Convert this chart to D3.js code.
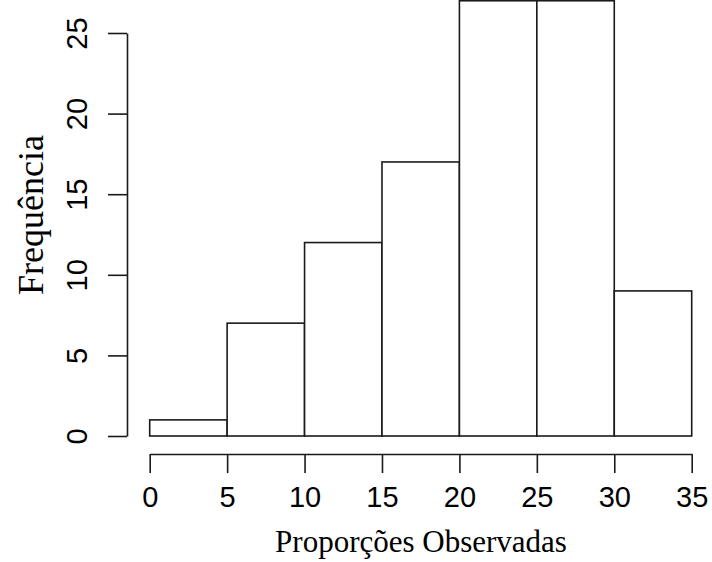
<!DOCTYPE html>
<html><head><meta charset="utf-8">
<script src="https://cdn.jsdelivr.net/npm/d3@7"></script>
<style>body{margin:0;background:#fff}svg{display:block}</style>
</head><body>
<script>
const binEdges = [0, 5, 10, 15, 20, 25, 30, 35];
const counts = [1, 7, 12, 17, 27, 27, 9];
const xTicks = [0, 5, 10, 15, 20, 25, 30, 35];
const yTicks = [0, 5, 10, 15, 20, 25];
const xLabel = "Proporções Observadas";
const yLabel = "Frequência";

const W = 712, H = 562;
const svg = d3.select("body").append("svg").attr("width", W).attr("height", H);
const x = d3.scaleLinear().domain([0, 35]).range([149.7, 691.7]);
const y = d3.scaleLinear().domain([0, 25]).range([436, 33]);
const stroke = "#1a1a1a", sw = 1.6;

const bins = counts.map((c, i) => ({x0: binEdges[i], x1: binEdges[i + 1], c}));
svg.append("g").selectAll("rect").data(bins).join("rect")
  .attr("x", d => x(d.x0)).attr("width", d => x(d.x1) - x(d.x0))
  .attr("y", d => y(d.c)).attr("height", d => y(0) - y(d.c))
  .attr("fill", "#fff").attr("stroke", stroke).attr("stroke-width", sw);

const sans = "'Liberation Sans', Arial, sans-serif";
const serif = "'Liberation Serif', 'Times New Roman', serif";

// x axis
const xa = svg.append("g").attr("transform", "translate(0,454)")
  .call(d3.axisBottom(x).tickValues(xTicks).tickSize(19).tickPadding(13).tickSizeOuter(0));
xa.select(".domain").attr("stroke", stroke).attr("stroke-width", sw);
xa.selectAll(".tick line").attr("stroke", stroke).attr("stroke-width", sw);
xa.selectAll(".tick text").attr("font-family", sans).attr("font-size", 29).attr("fill", "#000");

// y axis
const ya = svg.append("g").attr("transform", "translate(127,0)")
  .call(d3.axisLeft(y).tickValues(yTicks).tickSize(19).tickSizeOuter(0));
ya.select(".domain").attr("stroke", stroke).attr("stroke-width", sw);
ya.selectAll(".tick line").attr("stroke", stroke).attr("stroke-width", sw);
ya.selectAll(".tick text")
  .attr("font-family", sans).attr("font-size", 29).attr("fill", "#000")
  .attr("text-anchor", "middle").attr("dy", null).attr("x", null)
  .attr("transform", "translate(-40,0) rotate(-90)");

svg.append("text").attr("x", 421).attr("y", 552).attr("text-anchor", "middle")
  .attr("font-family", serif).attr("font-size", 31).attr("fill", "#000").text(xLabel);
svg.append("text").attr("transform", "translate(43,215) rotate(-90)").attr("text-anchor", "middle")
  .attr("font-family", serif).attr("font-size", 36).attr("fill", "#000").text(yLabel);
</script>
</body></html>
